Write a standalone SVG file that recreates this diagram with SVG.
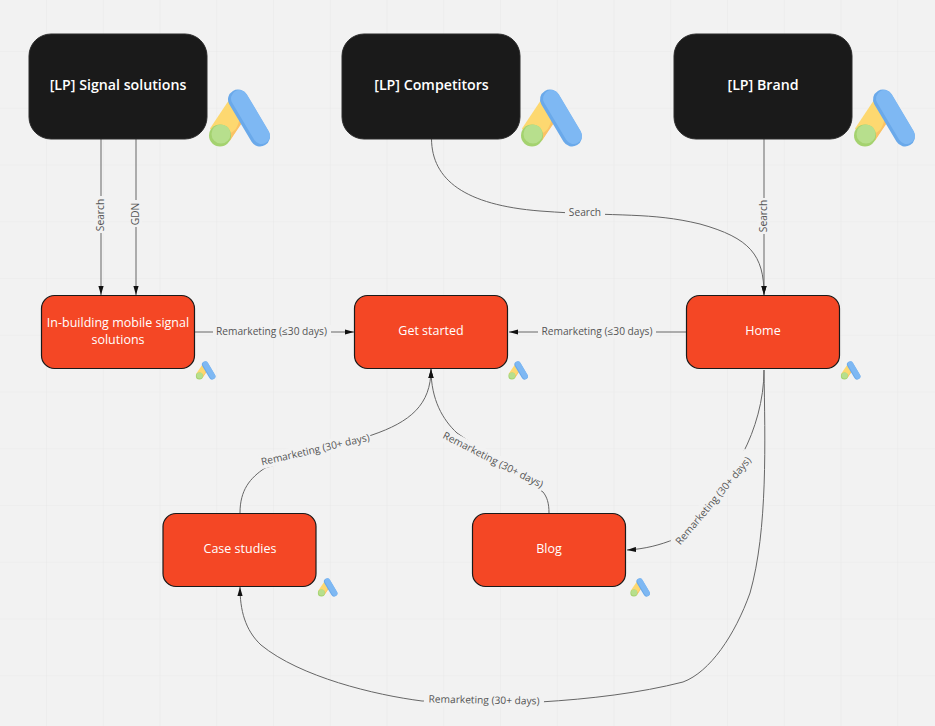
<svg xmlns="http://www.w3.org/2000/svg" xmlns:xlink="http://www.w3.org/1999/xlink" width="935" height="726" viewBox="0 0 935 726">
<style>
.lp{fill:#1a1a1a;stroke:#2a2a2a;stroke-width:1}
.pg{fill:#f44725;stroke:#1a1a1a;stroke-width:1.2}
.t{font-family:"Open Sans","Liberation Sans",sans-serif;text-anchor:middle}
.lpt{font-size:14.2px;font-weight:600;fill:#fff}
.pgt{font-size:12.5px;font-weight:500;fill:#fff}
.c{fill:none;stroke:#666;stroke-width:1;marker-end:url(#a)}
.l{font-size:10.2px;fill:#555}
.bg{fill:#f2f2f2}
</style>
<defs>
<pattern id="g" width="56.75" height="56.75" patternUnits="userSpaceOnUse" x="46" y="-5.75">
<path d="M0 0V56.75M0 0H56.75" fill="none" stroke="#e9e9e9" stroke-width="1.2"/>
</pattern>
<marker id="a" markerWidth="10" markerHeight="6" refX="9" refY="3" orient="auto" markerUnits="userSpaceOnUse">
<path d="M0 0.4L9 3L0 5.600Z" fill="#111"/>
</marker>
<g id="ads">
<path d="M-1 40L19 10L36 25L19 52L9 55Z" fill="#fdd870"/>
<path d="M19 52L16 45C24 45 27 38 29 29L36 27Z" fill="#fbc264"/>
<circle cx="9" cy="47" r="11" fill="#a4d26f"/>
<circle cx="10" cy="45.500" r="9.500" fill="#b7df8d"/>
<path d="M27 11 L49 48" stroke="#6aa9ea" stroke-width="20" stroke-linecap="round" fill="none"/>
<path d="M28.500 10 L50.500 47" stroke="#7eb8f3" stroke-width="17" stroke-linecap="round" fill="none"/>
</g>
</defs>
<rect width="935" height="726" fill="#f2f2f2"/>
<rect width="935" height="726" fill="url(#g)"/>

<g id="connectors">
<path class="c" d="M101 139V295"/>
<path class="c" d="M136 139V295"/>
<path class="c" d="M431.500 139C432 180 465 205 540 211C620 217 650 212 700 224C750 238 764 255 764 295"/>
<path class="c" d="M764 139V295"/>
<path class="c" d="M195 332H354"/>
<path class="c" d="M686 332H509"/>
<path class="c" d="M240 513C240 490 250 478 265 468L372 435C410 422 431 405 431 369"/>
<path class="c" d="M549 513C549 503 547 497 543 492L457 433C443 420 431 400 431 369"/>
<path class="c" d="M764 370C764 400 755 430 743 453L675 539C660 545 645 549 627 550"/>
<path class="c" d="M764 370C765 440 768 530 750 593C735 635 710 672 683 682C640 693 590 699 540 702L422 701C375 695 300 677 261 645C245 630 240 610 240 587"/>
<rect class="bg" x="94" y="196" width="13" height="37"/>
<rect class="bg" x="130" y="200" width="12" height="27"/>
<rect class="bg" x="565" y="206" width="40" height="13"/>
<rect class="bg" x="757" y="198" width="13" height="36"/>
<rect class="bg" x="213" y="325" width="118" height="13"/>
<rect class="bg" x="538" y="325" width="118" height="13"/>
<rect class="bg" x="-57" y="-7" width="114" height="14" transform="translate(315 449.500) rotate(-13)"/>
<rect class="bg" x="-57" y="-7" width="114" height="14" transform="translate(493 460) rotate(27)"/>
<rect class="bg" x="-59" y="-7" width="118" height="14" transform="translate(713 499) rotate(-51)"/>
<rect class="bg" x="-60" y="-7" width="120" height="14" transform="translate(484 700) rotate(1)"/>
<text class="t l" transform="translate(104 215) rotate(-90)">Search</text>
<text class="t l" transform="translate(139 214) rotate(-90)">GDN</text>
<text class="t l" x="585" y="216">Search</text>
<text class="t l" transform="translate(767 216) rotate(-90)">Search</text>
<text class="t l" x="271.500" y="335">Remarketing (≤30 days)</text>
<text class="t l" x="597" y="335">Remarketing (≤30 days)</text>
<text class="t l" transform="translate(316 453) rotate(-13)">Remarketing (30+ days)</text>
<text class="t l" transform="translate(491.500 463) rotate(27)">Remarketing (30+ days)</text>
<text class="t l" transform="translate(716 503) rotate(-50)">Remarketing (30+ days)</text>
<text class="t l" transform="translate(484 703.500) rotate(1)">Remarketing (30+ days)</text>
</g>

<g id="node-lp-signal"><rect class="lp" x="29" y="34" width="178" height="105" rx="22"/><text class="t lpt" x="118" y="90">[LP] Signal solutions</text><use xlink:href="#ads" href="#ads" transform="translate(211 88.500)"/></g>
<g id="node-lp-competitors"><rect class="lp" x="342" y="34" width="178" height="105" rx="22"/><text class="t lpt" x="431.500" y="90">[LP] Competitors</text><use xlink:href="#ads" href="#ads" transform="translate(523 88.500)"/></g>
<g id="node-lp-brand"><rect class="lp" x="674" y="34" width="178" height="105" rx="22"/><text class="t lpt" x="763" y="90">[LP] Brand</text><use xlink:href="#ads" href="#ads" transform="translate(856 88.500)"/></g>

<g id="node-inbuilding"><rect class="pg" x="41.500" y="295.500" width="153" height="73" rx="13"/><text class="t pgt" x="118" y="327">In-building mobile signal</text><text class="t pgt" x="118" y="344">solutions</text><use xlink:href="#ads" href="#ads" transform="translate(196.500 361) scale(.32)"/></g>
<g id="node-getstarted"><rect class="pg" x="354.500" y="295.500" width="153" height="73" rx="13"/><text class="t pgt" x="431" y="335">Get started</text><use xlink:href="#ads" href="#ads" transform="translate(509 361) scale(.32)"/></g>
<g id="node-home"><rect class="pg" x="686.500" y="295.500" width="153" height="73" rx="13"/><text class="t pgt" x="763" y="335">Home</text><use xlink:href="#ads" href="#ads" transform="translate(841.500 361) scale(.32)"/></g>
<g id="node-casestudies"><rect class="pg" x="163" y="513.500" width="153" height="73" rx="13"/><text class="t pgt" x="240" y="553">Case studies</text><use xlink:href="#ads" href="#ads" transform="translate(318.500 578) scale(.32)"/></g>
<g id="node-blog"><rect class="pg" x="472.500" y="513.500" width="153" height="73" rx="13"/><text class="t pgt" x="549" y="553">Blog</text><use xlink:href="#ads" href="#ads" transform="translate(631 578) scale(.32)"/></g>
</svg>
